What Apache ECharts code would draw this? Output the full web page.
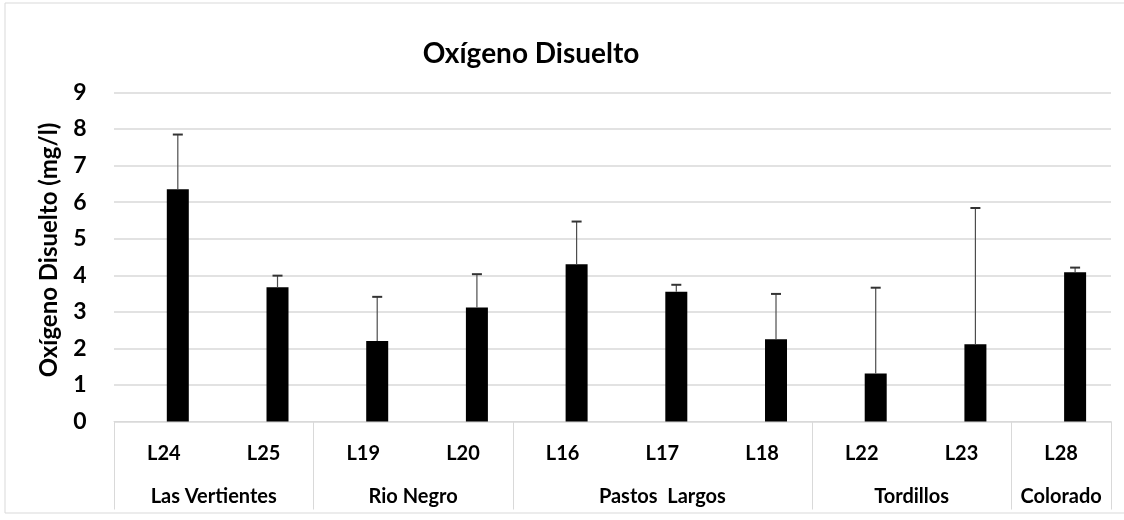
<!DOCTYPE html>
<html>
<head>
<meta charset="utf-8">
<script src="https://cdn.jsdelivr.net/npm/echarts@6/dist/echarts.min.js"></script>
<style>
  html, body { margin: 0; padding: 0; background: #fff; }
  #chart { width: 1124px; height: 520px; }
</style>
</head>
<body>
<div id="chart"></div>
<script>
// Sampling sites (lagunas) and the basin each belongs to
const sites = ['L24', 'L25', 'L19', 'L20', 'L16', 'L17', 'L18', 'L22', 'L23', 'L28'];
const basins = ['Las Vertientes', 'Rio Negro', 'Pastos  Largos', 'Tordillos', 'Colorado'];
const basinSizes = [2, 2, 3, 2, 1];

// Mean dissolved oxygen (mg/l) and its standard deviation per site
const oxygenMean = [6.35, 3.67, 2.20, 3.12, 4.30, 3.55, 2.25, 1.31, 2.11, 4.08];
const oxygenSd   = [1.50, 0.32, 1.21, 0.91, 1.17, 0.19, 1.24, 2.35, 3.73, 0.13];

const yTicks = [0, 1, 2, 3, 4, 5, 6, 7, 8, 9];

const FONT = 'Lato';
const BAR_W = 22;
const BAR_SHIFT = 0.14; // bars sit a little right of the band centre

// first category index of each basin, and the centre of each basin span
const basinStarts = [];
const basinCentres = {};
let acc = 0;
basinSizes.forEach((n, i) => {
  basinStarts.push(acc);
  basinCentres[(acc + n / 2).toFixed(1)] = basins[i];
  acc += n;
});

const barData = sites.map((s, i) => [i, oxygenMean[i]]);
const errData = sites.map((s, i) => [i, oxygenMean[i], oxygenSd[i]]);

const chart = echarts.init(document.getElementById('chart'), null, { renderer: 'canvas' });

chart.setOption({
  animation: false,
  backgroundColor: '#fff',
  title: {
    text: 'Oxígeno Disuelto',
    left: 526,
    textAlign: 'center',
    top: 35,
    textStyle: { fontFamily: FONT, fontWeight: 'bold', fontSize: 28, color: '#000' }
  },
  graphic: [{
    type: 'rect',
    shape: { x: 5, y: 3, width: 1125, height: 510 },
    style: { fill: 'none', stroke: '#d9d9d9', lineWidth: 1 },
    silent: true
  }],
  grid: { left: 114, right: 13, top: 92.5, bottom: 98.5, containLabel: false },
  xAxis: [{
    type: 'category',
    data: sites,
    boundaryGap: true,
    axisLine: { lineStyle: { color: '#d9d9d9', width: 1 } },
    axisTick: {
      show: true,
      length: 88,
      interval: (idx) => basinStarts.indexOf(idx) >= 0,
      lineStyle: { color: '#d9d9d9', width: 1 }
    },
    axisLabel: {
      interval: 0, margin: 22,
      fontFamily: FONT, fontWeight: 'bold', fontSize: 20, color: '#000'
    }
  }, {
    type: 'value',
    position: 'bottom',
    min: 0, max: sites.length, interval: 0.5,
    axisLine: { show: false },
    axisTick: { show: false },
    splitLine: { show: false },
    axisLabel: {
      margin: 65,
      showMinLabel: true, showMaxLabel: true,
      formatter: (v) => basinCentres[v.toFixed(1)] || '',
      fontFamily: FONT, fontWeight: 'bold', fontSize: 20, color: '#000'
    }
  }],
  yAxis: {
    type: 'value',
    min: yTicks[0], max: yTicks[yTicks.length - 1], interval: 1,
    name: 'Oxígeno Disuelto (mg/l)',
    nameLocation: 'middle',
    nameGap: 53,
    nameTextStyle: { fontFamily: FONT, fontWeight: 'bold', fontSize: 24, color: '#000', padding: [0, 0, 0, 14] },
    axisLine: { show: false },
    axisTick: { show: false },
    splitLine: { lineStyle: { color: '#d9d9d9', width: 1.5 } },
    axisLabel: { margin: 34, fontFamily: FONT, fontWeight: 'bold', fontSize: 23, color: '#000', align: 'center' }
  },
  series: [{
    name: 'Oxígeno Disuelto',
    type: 'custom',
    xAxisIndex: 0,
    data: barData,
    encode: { x: 0, y: 1 },
    renderItem: (params, api) => {
      const idx = api.value(0);
      const band = api.size([1, 0])[0];
      const base = api.coord([idx, 0]);
      const top = api.coord([idx, api.value(1)]);
      const cx = base[0] + band * BAR_SHIFT;
      return {
        type: 'rect',
        shape: { x: cx - BAR_W / 2, y: top[1], width: BAR_W, height: base[1] - top[1] },
        style: { fill: '#000' }
      };
    },
    z: 3
  }, {
    name: 'Desvío estándar',
    type: 'custom',
    xAxisIndex: 0,
    data: errData,
    encode: { x: 0, y: [1, 2] },
    renderItem: (params, api) => {
      const idx = api.value(0);
      const mean = api.value(1);
      const sd = api.value(2);
      const band = api.size([1, 0])[0];
      const low = api.coord([idx, mean]);
      const high = api.coord([idx, mean + sd]);
      const cx = low[0] + band * BAR_SHIFT;
      const capHalf = 5;
      const style = { stroke: '#4d4d4d', lineWidth: 1.2 };
      return {
        type: 'group',
        children: [
          { type: 'line', shape: { x1: cx, y1: low[1], x2: cx, y2: high[1] }, style },
          { type: 'line', shape: { x1: cx - capHalf, y1: high[1], x2: cx + capHalf, y2: high[1] }, style: { stroke: '#333', lineWidth: 2 } }
        ]
      };
    },
    z: 4
  }]
});
</script>
</body>
</html>
